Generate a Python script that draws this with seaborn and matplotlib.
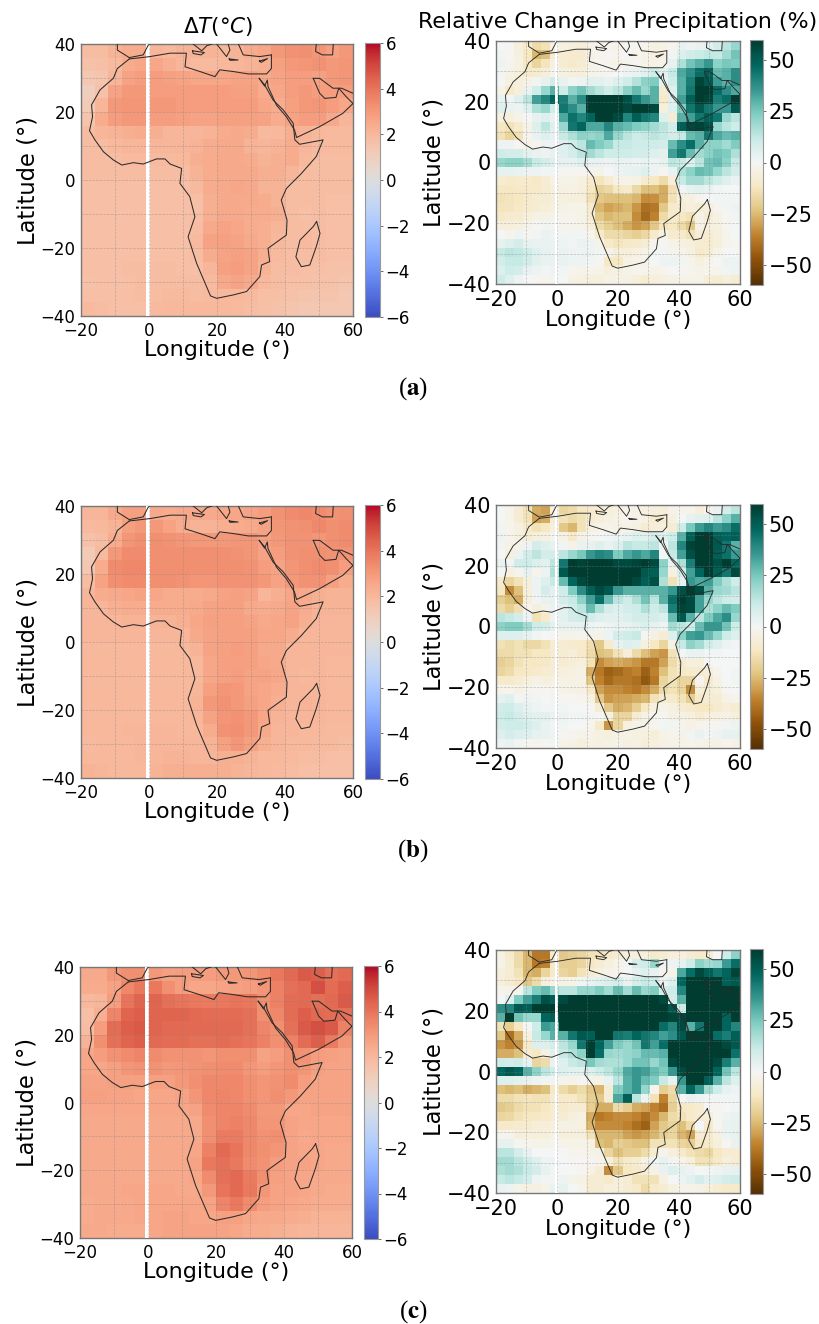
import numpy as np
import seaborn as sns
import matplotlib
matplotlib.use("Agg")
import matplotlib.pyplot as plt

plt.rcParams['mathtext.fontset'] = 'dejavusans'

# temperature change, tenths of a degree, 4 degree cells, north to south
T_A = [
    [18,18,22,24,24,21,20,22,22,22,21,22,24,26,30,32,33,31,28,30],
    [16,17,19,24,26,26,23,21,19,19,20,21,22,23,28,30,31,32,30,31],
    [14,15,21,27,29,29,28,27,26,26,26,27,27,25,27,29,29,28,30,31],
    [10,16,27,30,30,29,29,29,29,29,29,28,28,24,26,29,30,29,29,29],
    [12,21,30,31,31,30,30,29,29,29,29,29,29,26,24,28,30,31,29,26],
    [15,24,29,30,30,29,29,28,27,27,28,28,28,27,24,27,29,29,25,21],
    [18,21,22,23,24,23,21,21,21,22,24,25,24,19,20,23,22,20,19,19],
    [18,18,20,21,21,21,21,21,22,24,25,25,22,21,22,24,21,19,19,19],
    [18,18,18,19,19,19,19,20,23,24,25,25,24,22,23,24,20,18,18,18],
    [18,18,18,18,18,18,18,18,22,24,25,25,25,23,23,21,18,18,18,18],
    [17,17,17,17,17,17,17,17,19,24,25,26,25,22,22,18,18,18,18,18],
    [17,17,17,17,17,17,17,17,17,23,25,25,25,24,22,18,18,18,17,17],
    [17,17,17,17,17,17,17,17,17,23,25,25,24,24,23,18,17,18,17,17],
    [17,17,17,17,17,17,17,17,18,25,27,26,24,23,21,18,18,18,17,17],
    [17,17,17,17,17,17,17,17,19,27,28,27,25,23,20,18,19,18,17,17],
    [17,17,17,17,17,17,17,17,18,24,27,28,27,23,19,18,18,18,17,17],
    [17,17,17,18,18,18,18,17,17,21,28,29,27,22,18,18,17,17,16,16],
    [16,17,17,17,18,18,18,18,18,19,25,27,25,20,18,17,17,16,16,15],
    [17,17,17,17,18,18,19,19,18,19,20,20,19,17,17,16,15,15,15,14],
    [19,18,17,17,17,19,20,20,20,20,20,19,18,17,16,15,14,14,14,14],
]
T_B = [
    [21,21,25,28,28,25,24,25,25,25,26,26,27,29,32,34,35,34,32,33],
    [19,20,22,28,30,30,27,24,22,22,23,24,25,27,31,32,33,35,33,34],
    [16,18,24,31,33,33,32,31,30,30,30,31,31,28,30,32,32,31,33,34],
    [12,19,30,34,34,33,33,33,33,33,33,32,31,27,29,32,33,33,32,32],
    [14,24,34,35,35,33,33,33,33,33,33,33,32,29,27,31,33,34,33,29],
    [18,27,33,34,34,33,33,32,31,31,32,32,32,30,27,30,32,32,28,24],
    [21,24,25,26,27,26,24,24,24,25,27,28,27,21,23,26,25,23,22,22],
    [21,21,23,24,24,24,24,24,25,27,28,28,25,24,25,27,24,22,22,22],
    [21,21,21,22,22,22,22,23,26,28,28,28,27,25,26,27,23,21,21,21],
    [21,21,21,21,21,21,21,21,25,27,28,28,28,26,26,24,21,21,21,21],
    [20,20,20,20,20,20,20,20,22,27,28,29,28,25,25,21,21,21,21,21],
    [20,20,20,20,20,20,20,20,20,26,28,28,28,26,25,21,21,21,20,20],
    [20,20,20,20,20,20,20,20,20,26,28,29,27,27,26,21,20,21,20,20],
    [20,20,20,20,20,20,20,20,21,28,31,30,27,26,24,21,21,21,20,20],
    [20,20,20,20,20,20,20,20,22,30,32,30,28,26,23,21,22,21,20,20],
    [20,20,20,20,20,20,20,20,21,27,31,32,30,26,22,21,21,21,20,20],
    [20,20,20,21,21,21,21,20,20,24,32,33,30,25,21,21,20,20,19,19],
    [19,20,20,20,21,21,21,21,21,22,28,31,28,23,21,20,20,19,19,18],
    [20,20,20,20,21,21,22,22,21,21,23,23,22,20,20,19,18,18,17,17],
    [22,21,20,20,20,22,23,23,23,23,23,22,21,20,19,18,17,17,17,17],
]
T_C = [
    [25,25,30,33,33,30,28,29,29,29,30,30,31,34,39,43,46,45,41,43],
    [24,24,27,35,39,39,33,29,26,26,27,28,29,31,37,41,43,49,42,45],
    [20,21,29,40,44,44,41,40,39,38,39,40,39,33,37,42,43,41,43,46],
    [17,23,36,44,45,44,44,44,43,42,42,42,41,33,35,42,45,43,42,41],
    [18,29,42,45,46,44,43,43,43,43,43,43,41,36,33,41,46,49,46,37],
    [22,33,41,44,45,43,42,42,41,41,42,41,40,37,33,37,42,45,38,31],
    [26,29,32,34,36,34,32,32,32,31,33,33,33,27,29,33,32,29,28,27],
    [26,26,28,31,32,32,30,31,32,33,34,34,31,29,31,33,31,28,27,27],
    [27,27,28,28,28,28,28,30,33,35,35,35,33,31,32,34,29,27,27,27],
    [28,28,27,27,26,26,26,27,31,35,36,35,33,31,33,30,27,27,27,27],
    [26,26,26,26,26,26,26,26,27,34,36,36,34,30,30,26,26,27,27,27],
    [25,25,25,25,25,25,25,25,25,33,36,37,35,31,31,27,26,26,26,26],
    [25,25,25,25,25,25,25,25,25,33,38,38,35,32,33,27,25,26,26,26],
    [25,25,25,25,25,25,25,25,26,37,43,40,35,33,31,27,26,26,25,25],
    [25,25,25,25,25,25,25,25,27,39,41,39,34,32,29,27,27,26,25,25],
    [25,25,25,25,25,25,25,25,26,34,41,43,38,33,28,27,26,25,25,25],
    [25,25,25,26,26,26,26,25,25,30,40,43,39,31,27,27,26,25,24,24],
    [24,25,25,25,26,26,26,26,26,27,36,39,34,29,27,26,25,24,24,24],
    [24,25,25,25,26,26,27,27,26,26,28,28,26,25,25,24,23,22,22,22],
    [25,25,24,24,24,26,27,27,27,27,27,26,24,24,23,22,21,21,21,21],
]

# precipitation change in percent, 27 x 27 cells, north to south
P_A = [
    [0,-1,-6,-10,-16,-14,-4,-5,-6,-7,-4,-3,-2,-3,-1,-1,-2,-5,-4,-2,4,2,3,5,9,14,20],
    [1,-1,-5,-12,-26,-24,-8,-8,-9,-9,-4,-2,-1,-2,0,-2,-3,-5,-5,1,7,9,11,13,12,18,26],
    [2,-2,-4,-12,-18,-13,-5,-8,-10,-8,-3,-1,-2,-3,-2,-1,-3,-4,-3,4,16,26,30,36,22,25,24],
    [1,-3,-6,-10,-9,-7,-2,-5,-6,-6,-3,-2,-1,0,2,3,5,10,5,12,32,38,46,50,28,30,38],
    [0,-5,-6,-4,1,4,9,3,1,2,5,5,3,6,10,15,22,24,3,10,30,42,58,52,35,30,38],
    [-3,-10,-6,3,9,20,30,10,22,26,18,14,10,14,22,28,20,30,-8,6,30,44,60,60,46,38,32],
    [4,1,6,14,34,40,48,42,30,38,60,60,60,60,54,44,36,30,-10,6,34,50,60,58,42,46,60],
    [6,3,2,6,16,20,10,44,38,30,60,60,60,60,56,60,60,56,-6,6,24,44,52,44,36,36,52],
    [-5,-6,-3,0,4,6,3,32,45,40,48,60,60,56,40,50,44,40,6,-8,30,34,44,50,44,20,14],
    [-12,-14,-10,-3,6,14,6,20,44,48,32,32,40,30,28,24,22,18,14,8,50,56,58,54,20,14,10],
    [-14,-18,-14,-2,3,6,4,12,16,22,20,22,32,20,14,10,12,14,12,8,12,28,30,44,32,28,30],
    [2,2,-1,-3,-2,2,2,6,10,14,28,24,20,12,12,10,10,10,8,28,38,46,30,22,22,18,24],
    [10,8,8,5,3,2,4,6,8,14,18,14,10,10,10,8,8,6,5,34,44,28,18,22,26,24,16],
    [20,22,22,18,12,8,6,4,4,6,4,3,2,3,3,2,3,2,4,14,12,6,14,26,28,22,12],
    [4,4,3,2,2,1,1,-1,-1,-1,-2,-3,0,2,3,4,6,2,-1,3,16,22,28,26,20,14,8],
    [-8,-10,-9,-9,-11,-8,-4,-3,-3,-5,-9,-13,-8,-4,-3,-4,-9,-12,-16,-7,12,18,18,14,10,6,3],
    [-12,-12,-11,-10,-10,-8,-6,-5,-4,-6,-12,-19,-17,-12,-10,-17,-24,-24,-28,-15,1,4,5,3,1,0,0],
    [-14,-13,-12,-10,-8,-8,-7,-5,-6,-6,-14,-22,-24,-24,-24,-26,-34,-33,-28,-14,-6,-5,-2,0,1,1,1],
    [-13,-13,-11,-9,-8,-7,-6,-4,-3,-3,-8,-26,-30,-28,-26,-32,-40,-38,-22,-10,-8,-6,-8,-6,-2,1,2],
    [-11,-9,-9,-6,-4,-4,-3,-2,-2,-3,-8,-22,-26,-24,-24,-34,-42,-36,-16,-10,-12,-14,-4,-8,-4,-1,1],
    [-6,-6,-5,-3,-1,1,-1,-2,-2,-3,-6,-16,-20,-24,-28,-32,-30,-22,-13,-12,-16,-22,-4,-6,-5,-1,0],
    [0,-2,2,-1,1,3,2,1,1,1,-2,-10,-16,-16,-18,-20,-17,-10,-4,-9,-10,-14,-8,-8,-6,-2,0],
    [4,6,8,4,3,3,3,2,1,3,2,-3,-10,-13,-11,-10,-8,-2,-1,-3,-5,-6,-8,-9,-6,-2,-1],
    [12,14,13,10,6,4,3,3,2,2,2,1,-3,-7,-7,-5,-3,1,1,-2,-2,-5,-10,-8,-3,0,0],
    [8,12,12,9,5,3,3,3,2,2,1,-1,-11,-12,-4,-3,-3,0,2,2,1,-2,-5,-3,0,2,2],
    [6,10,8,4,2,1,2,1,-2,-3,-2,-3,-6,-5,-3,-2,-2,-3,-2,0,-1,-2,-3,-2,-2,1,2],
    [10,6,2,0,-1,-2,1,0,-4,-5,-6,-6,-4,-4,-4,-6,-8,-6,-5,-4,-3,-3,-3,-7,-8,-6,-8],
]
P_B = [
    [0,-2,-8,-14,-28,-30,-6,-18,-16,-12,-10,-8,-6,-5,-3,-4,-5,-6,-7,-3,-2,-2,-6,-2,3,8,14],
    [0,-3,-8,-14,-30,-28,-8,-14,-16,-14,-8,-7,-5,-3,-2,-3,-5,-9,-8,-5,0,4,5,6,14,22,30],
    [1,-2,-5,-10,-14,-12,-6,-22,-26,-14,-5,-3,-3,-4,-3,-5,-8,-7,-6,-8,10,25,35,40,35,38,46],
    [2,-2,-5,-8,-6,-5,-2,-4,-10,-4,-1,0,1,2,4,6,5,8,6,10,30,50,60,60,50,48,50],
    [1,-4,-3,2,8,6,4,1,-3,3,4,6,3,7,14,12,12,14,2,14,40,58,60,60,52,44,30],
    [0,-6,3,9,14,8,8,14,20,25,36,40,38,24,32,36,32,40,0,12,34,54,60,60,50,45,35],
    [4,1,9,10,7,5,14,44,60,58,60,60,60,56,56,58,60,56,22,4,16,42,60,60,54,60,48],
    [0,-5,-2,4,-2,2,16,52,60,60,60,60,60,60,60,60,52,50,20,-5,8,34,48,60,50,44,56],
    [-10,-18,-14,-6,2,6,12,28,48,56,60,60,60,60,60,56,50,54,16,-14,4,36,32,34,24,16,10],
    [-12,-34,-24,-6,2,8,5,10,24,38,50,56,52,36,30,30,30,30,30,36,54,60,55,30,20,18,14],
    [-20,-24,-28,-6,1,3,4,8,12,22,34,46,28,14,10,16,26,14,30,46,60,56,34,20,14,10,8],
    [-16,-20,-15,-2,-6,-3,3,5,10,14,28,16,8,6,8,10,16,10,14,42,58,56,34,16,22,28,24],
    [14,12,8,2,-14,-10,2,5,8,10,8,6,5,5,7,9,8,8,7,28,52,30,14,24,32,38,20],
    [22,24,24,18,10,8,5,4,4,4,2,1,2,3,4,5,7,4,2,18,14,10,28,36,36,26,10],
    [6,6,6,4,1,0,-1,-3,-3,-2,-3,-3,2,8,10,12,-1,-5,-8,6,22,34,36,28,20,10,6],
    [-14,-16,-14,-17,-17,-14,-8,-8,-9,-10,-15,-22,-9,4,6,5,-5,-12,-18,-4,12,22,18,10,6,2,1],
    [-16,-16,-14,-14,-12,-12,-8,-8,-7,-10,-16,-24,-22,-14,-7,-16,-24,-30,-32,-14,0,3,3,1,1,0,0],
    [-20,-18,-14,-11,-12,-11,-8,-8,-7,-6,-14,-34,-30,-28,-30,-32,-38,-38,-30,-16,-9,-6,-6,-1,0,0,0],
    [-18,-16,-12,-11,-10,-8,-8,-6,-5,-4,-28,-38,-44,-42,-38,-36,-44,-36,-24,-14,-11,-9,-9,-7,-2,0,1],
    [-10,-10,-8,-6,-4,-6,-5,-4,-4,-4,-22,-36,-42,-38,-38,-40,-46,-38,-18,-14,-18,-18,-2,-10,-4,0,1],
    [-2,-2,-4,-2,-1,-1,-2,-3,-4,-4,-10,-30,-34,-34,-36,-38,-34,-28,-16,-14,-18,-34,-6,-8,-6,-1,0],
    [4,6,1,2,1,0,1,-1,-1,-2,-4,-22,-32,-30,-30,-28,-26,-14,-9,-10,-14,-20,-10,-8,-8,-4,-2],
    [9,10,7,4,2,1,1,1,0,0,-1,-8,-22,-28,-26,-20,-12,-5,-3,-5,-8,-10,-12,-12,-9,-7,-8],
    [10,12,8,6,5,5,3,2,1,1,1,-1,-5,-18,-18,-8,-4,-1,-1,-4,-4,-5,-8,-6,-5,-4,-6],
    [8,10,10,8,6,3,1,1,0,0,-2,-10,-32,-18,-5,-3,-3,-2,1,1,-2,-4,-2,-1,-1,1,2],
    [6,8,7,6,4,3,2,-1,-2,-3,-3,-5,-6,-4,-4,-5,-5,-7,-3,-2,-3,1,3,1,2,4,4],
    [2,3,1,-1,-2,-1,1,-3,-4,-6,-4,-5,-4,-3,-5,-4,-7,-6,-4,-3,-3,-2,-3,-4,-4,-2,-4],
]
P_C = [
    [-4,-10,-16,-26,-38,-38,-10,-22,-20,-18,-14,-14,-10,-8,-6,-6,-6,-10,-8,-6,-6,-8,-10,-8,0,10,22],
    [-3,-8,-16,-26,-38,-36,-10,-20,-20,-18,-12,-8,-6,-3,1,8,10,20,2,2,4,10,22,18,20,35,46],
    [-6,-8,-14,-26,-28,-18,-10,-18,-20,-14,-8,-5,-3,-2,0,4,6,4,-2,-3,32,46,56,50,44,48,58],
    [-6,-8,-12,-22,-16,-6,-4,-4,-3,1,3,5,7,8,3,8,12,10,2,6,48,60,60,60,60,50,52],
    [-2,-3,-2,14,24,28,20,14,14,20,20,24,18,28,18,28,20,24,8,10,40,60,60,60,60,60,60],
    [0,6,24,34,42,54,50,56,60,60,60,60,60,60,60,60,60,60,56,8,30,60,60,60,60,60,60],
    [38,40,52,50,60,60,60,60,60,60,60,60,60,60,60,60,60,60,60,52,10,60,60,60,60,60,60],
    [30,60,26,20,20,48,50,60,60,60,60,60,60,60,60,60,60,60,60,58,56,60,60,60,60,48,60],
    [-14,-20,-12,0,10,35,32,60,60,60,60,60,60,60,60,60,60,60,46,40,56,30,44,60,60,48,40],
    [-22,-40,-28,-5,12,20,30,30,44,52,50,60,60,44,42,48,44,40,34,38,52,60,60,60,46,42,50],
    [-32,-36,-32,-10,6,6,8,14,20,44,60,48,34,24,20,26,44,34,46,60,60,60,60,60,60,56,52],
    [-28,-28,-24,-8,-12,-4,5,12,16,22,60,46,20,18,20,22,28,28,30,60,60,60,60,60,60,60,45],
    [10,8,10,4,-18,-16,3,6,12,14,25,18,16,16,20,26,26,20,26,56,60,60,60,60,56,42,30],
    [48,52,48,30,22,14,10,6,5,5,6,10,14,20,32,36,34,28,24,36,56,60,60,60,48,26,14],
    [6,6,5,4,2,1,1,-2,-3,-1,-3,-3,3,14,30,36,28,24,12,4,36,60,60,50,30,14,6],
    [-24,-26,-24,-28,-26,-24,-12,-16,-20,-16,-22,-26,-8,24,30,36,20,-2,-20,-16,30,48,36,18,10,4,2],
    [-16,-16,-14,-13,-14,-14,-8,-10,-10,-14,-20,-22,-8,32,50,14,2,-14,-36,-18,0,3,2,1,1,1,1],
    [-22,-20,-16,-14,-14,-12,-8,-10,-8,-8,-20,-28,-28,-16,-20,-28,-30,-36,-40,-20,-12,-10,-8,-1,-1,0,1],
    [-18,-17,-14,-12,-12,-10,-8,-8,-6,-4,-28,-38,-36,-34,-34,-36,-40,-34,-26,-16,-14,-10,-8,-7,-1,2,3],
    [-10,-10,-9,-9,-7,-7,-6,-4,-4,-5,-26,-34,-34,-34,-36,-40,-44,-30,-22,-18,-24,-16,0,-10,-1,3,4],
    [-2,-2,-6,-6,-6,-6,-3,-6,-6,-6,-14,-26,-26,-26,-30,-32,-30,-26,-20,-18,-26,-30,-8,-10,-5,2,4],
    [4,4,-1,-2,-3,-3,-2,-3,-3,-3,-4,-24,-26,-20,-22,-24,-24,-14,-14,-14,-18,-20,-12,-10,-6,-1,3],
    [14,14,8,4,0,0,0,0,-2,-2,-3,-4,-18,-24,-20,-20,-16,-8,-2,-6,-10,-14,-16,-18,-12,-8,-8],
    [18,18,14,10,6,2,2,0,-1,-1,-1,-2,-6,-14,-10,-8,-4,1,4,1,-2,-6,-14,-14,-10,-6,-8],
    [16,18,16,12,8,4,1,0,0,-1,-4,-8,-34,-22,-12,-10,-8,-4,3,7,4,2,0,1,2,3,4],
    [12,14,12,8,2,1,1,2,-3,-4,-8,-8,-10,-6,-8,-14,-14,-14,-5,0,2,5,8,5,6,8,10],
    [3,2,-3,-5,-5,-3,3,4,0,-2,-8,-8,-6,-6,-8,-10,-16,-10,-8,-5,-3,-3,-4,-6,-8,-10,-10],
]

# coast outlines as (lon, lat) runs
AFRICA = [(-5.8,35.6),(-9.3,32.8),(-10.5,29.9),(-14.4,26.5),(-16.9,22.1),(-16.6,18.6),(-17.5,14.5),
          (-15.9,11.8),(-13.4,8.3),(-10.5,5.9),(-8,4.4),(-4.6,5.1),(-1.7,4.7),(2.2,6.2),(4.7,6.2),
          (6.2,4.7),(9.6,3.4),(9.1,-1),(12,-4.9),(13.5,-10.8),(11.5,-16.7),(14,-24.5),(18.1,-34.1),
          (19.9,-34.8),(24.8,-33.8),(28.7,-32.8),(32.6,-28.4),(33.1,-25),(35.5,-24),(35,-20.1),
          (40.4,-16.2),(40.6,-11.8),(38.9,-5.9),(40.4,-2.5),(44.8,1.9),(49.2,6.9),(51.2,11.8),
          (44.3,10.5),(42.9,11.8),(42.4,16.7),(39.5,20.6),(36.5,23.5),(34,28),(32.4,29.9)]
MED_SOUTH = [(36,36.8),(36,32.8),(34.6,31.2),(29.2,31.2),(24.8,31.9),(20.8,32.4),(19.4,30.4),
             (15,31.9),(10.6,33.3),(11,37.3),(6.2,37.3),(0.3,36.3),(-5.8,35.6)]
IBERIA = [(-9.3,40),(-9.3,38.2),(-5.8,36),(-1.7,36.8),(-0.2,39.7),(0.2,40)]
GREECE = [(19.9,40),(21.3,38.2),(22.8,36.3),(23.8,38.2),(23.3,40)]
TURKEY = [(26.3,40),(27.7,36.8),(32.6,36.3),(36,36.8)]
ITALY = [(13,40),(15.5,38),(17,39.5),(18.5,40)]
SICILY = [(12.8,38),(16.3,37.5),(15.3,36.8),(13,37.2),(12.8,38)]
CRETE = [(23.6,35.6),(26.2,35.3),(23.8,35.2),(23.6,35.6)]
CYPRUS = [(32.5,35),(34.9,35.7),(33,34.6),(32.5,35)]
CASPIAN = [(49.2,40),(49,37.8),(51,36.8),(54,36.8),(54.2,40)]
ARABIA = [(32.4,29.9),(34,27.6),(34.8,29.4),(35,27.5),(37.5,22),(40.4,18.6),(42.8,14.7),(43.4,12.5),
          (50.2,15.7),(57,19.6),(60,22.5),(58,24.5),(55.8,27),(55,24.3),(51.7,24),(50.2,25.5),(48.3,29.9)]
IRAN = [(48.3,29.9),(50.2,29.9),(54.1,27),(56.6,27),(60,25.5)]
MADAGASCAR = [(49.3,-12.2),(50.3,-15.7),(49.2,-19.6),(47.3,-25),(44.8,-25.5),(43.2,-22.6),
              (44.4,-17.7),(48.3,-13.7),(49.3,-12.2)]
COASTS = [AFRICA, MED_SOUTH, IBERIA, GREECE, TURKEY, ITALY, SICILY, CRETE, CYPRUS, CASPIAN,
          ARABIA, IRAN, MADAGASCAR]

W, H = 819, 1324
CAPTIONS = ["a", "b", "c"]


def box(x0, y0, x1, y1):
    # pixel box to figure fraction
    return [x0 / W, 1 - y1 / H, (x1 - x0) / W, (y1 - y0) / H]


def draw_map(data, pos, cpos, cmap, vmax, cticks, gap, tick_fs, cb_fs, lw):
    ax = fig.add_axes(box(*pos))
    cax = fig.add_axes(box(*cpos))
    data = np.array(data, dtype=float)
    nrow, ncol = data.shape
    sns.heatmap(data, ax=ax, cbar_ax=cax, cmap=cmap, vmin=-vmax, vmax=vmax,
                xticklabels=False, yticklabels=False)

    def xp(lon):
        return (np.asarray(lon) + 20) / 80 * ncol

    def yp(lat):
        return (40 - np.asarray(lat)) / 80 * nrow

    ax.axvspan(xp(gap[0]), xp(gap[1]), color='white', zorder=3, lw=0)
    ax.vlines(xp(np.arange(-10, 60, 10)), 0, nrow, color='gray', ls='--', lw=0.5, alpha=0.45, zorder=4)
    ax.hlines(yp(np.arange(-30, 40, 10)), 0, ncol, color='gray', ls='--', lw=0.5, alpha=0.45, zorder=4)
    for run in COASTS:
        lons, lats = zip(*run)
        ax.plot(xp(lons), yp(lats), color='#2b2b2b', lw=lw, zorder=5)

    ax.set_xticks(xp([-20, 0, 20, 40, 60]))
    ax.set_xticklabels(['\u221220', '0', '20', '40', '60'], rotation=0)
    ax.set_yticks(yp([40, 20, 0, -20, -40]))
    ax.set_yticklabels(['40', '20', '0', '\u221220', '\u221240'], rotation=0)
    ax.tick_params(labelsize=tick_fs, length=0, pad=4)
    ax.set_xlabel('Longitude (\u00b0)', fontsize=16, labelpad=0)
    ax.set_ylabel('Latitude (\u00b0)', fontsize=16.3, labelpad=1)
    for s in ax.spines.values():
        s.set_visible(True)
        s.set_color('#777777')
        s.set_linewidth(1)
    cb = ax.collections[0].colorbar
    cb.set_ticks(cticks)
    cb.set_ticklabels([str(t).replace('-', '\u2212') for t in cticks])
    cb.ax.tick_params(labelsize=cb_fs, length=2, width=0.6, pad=2, color='#555555')
    cb.outline.set_visible(True)
    cb.outline.set_edgecolor('#999999')
    cb.outline.set_linewidth(0.8)
    return ax


fig = plt.figure(figsize=(W / 100, H / 100), dpi=100)

T_TICKS = [-6, -4, -2, 0, 2, 4, 6]
P_TICKS = [-50, -25, 0, 25, 50]
T_GAP = (-1.0, 0.3)
P_GAP = (-0.5, 0.2)

# the T tables hold tenths of a degree
draw_map(np.array(T_A) / 10, (81, 44, 353, 316), (365, 43, 380, 317), 'coolwarm', 6, T_TICKS, T_GAP, 12, 12, 0.75)
draw_map(np.array(T_B) / 10, (81, 506, 353, 778), (365, 505, 380, 779), 'coolwarm', 6, T_TICKS, T_GAP, 12, 12, 0.75)
draw_map(np.array(T_C) / 10, (80, 967, 352, 1238), (364, 966, 378, 1239), 'coolwarm', 6, T_TICKS, T_GAP, 12, 12, 0.75)
draw_map(P_A, (496, 41, 740, 284), (750, 40, 763, 285), 'BrBG', 60, P_TICKS, P_GAP, 15, 15, 0.65)
draw_map(P_B, (496, 505, 740, 748), (750, 504, 763, 749), 'BrBG', 60, P_TICKS, P_GAP, 15, 15, 0.65)
draw_map(P_C, (496, 950, 740, 1193), (750, 949, 763, 1194), 'BrBG', 60, P_TICKS, P_GAP, 15, 15, 0.65)

fig.text(218 / W, 1 - 27 / H, r'$\Delta T(\degree C)$', fontsize=15.5, ha='center', va='center')
fig.text(618 / W, 1 - 22 / H, 'Relative Change in Precipitation (%)', fontsize=15.9, ha='center', va='center')

plt.rcParams['mathtext.fontset'] = 'stix'
for letter, y in zip(CAPTIONS, [389, 851, 1312]):
    fig.text(413 / W, 1 - y / H, '(' + r'$\mathbf{' + letter + '}$' + ')', fontsize=18,
             family='Liberation Serif', ha='center', va='center', math_fontfamily='stix')

fig.savefig('out.png', dpi=100)
